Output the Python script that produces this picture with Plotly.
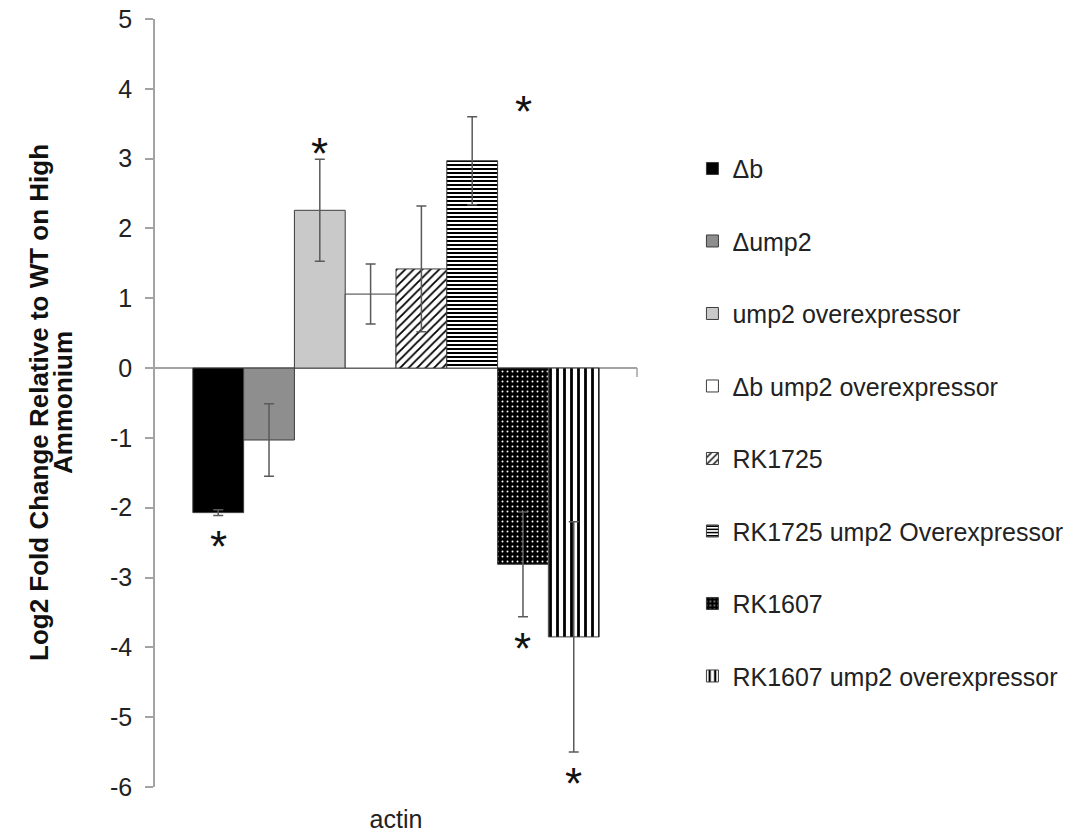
import plotly.graph_objects as go

# ---- data ----
genes = ["actin"]
strains = [
    "Δb",
    "Δump2",
    "ump2 overexpressor",
    "Δb ump2 overexpressor",
    "RK1725",
    "RK1725 ump2 Overexpressor",
    "RK1607",
    "RK1607 ump2 overexpressor",
]
log2_fc = [-2.07, -1.03, 2.26, 1.06, 1.42, 2.97, -2.81, -3.85]
fc_err = [0.04, 0.52, 0.73, 0.43, 0.90, 0.63, 0.75, 1.65]
significant = [True, False, True, False, False, True, True, True]
y_tick_vals = [5, 4, 3, 2, 1, 0, -1, -2, -3, -4, -5, -6]
y_tick_text = ["5", "4", "3", "2", "1", "0", "-1", "-2", "-3", "-4", "-5", "-6"]
y_title_lines = ["Log2 Fold Change Relative to WT on High", "Ammonium"]

# ---- styling ----
FONT = "Liberation Sans, Arial, sans-serif"
AXIS_GREY = "#a3a3a3"
OUTLINE = "#3c3c3c"
BARGAP = 0.157

bar_styles = [
    dict(color="#000000", pattern=dict(shape="")),
    dict(color="#8e8e8e", pattern=dict(shape="")),
    dict(color="#c9c9c9", pattern=dict(shape="")),
    dict(color="#ffffff", pattern=dict(shape="")),
    dict(color="#ffffff", pattern=dict(shape="/", fgcolor="#000000", bgcolor="#ffffff",
                                       size=6, solidity=0.3, fillmode="replace")),
    dict(color="#ffffff", pattern=dict(shape="-", fgcolor="#000000", bgcolor="#ffffff",
                                       size=4, solidity=0.5, fillmode="replace")),
    dict(color="#000000", pattern=dict(shape=".", fgcolor="#ffffff", bgcolor="#000000",
                                       size=5, solidity=0.12, fillmode="replace")),
    dict(color="#ffffff", pattern=dict(shape="|", fgcolor="#000000", bgcolor="#ffffff",
                                       size=7, solidity=0.4, fillmode="replace")),
]

fig = go.Figure()
for i, name in enumerate(strains):
    st = bar_styles[i]
    fig.add_trace(go.Bar(
        x=genes,
        y=[log2_fc[i]],
        name=name,
        legendgroup=name,
        marker=dict(color=st["color"], pattern=st["pattern"],
                    line=dict(color=OUTLINE, width=1)),
        error_y=dict(type="data", array=[fc_err[i]], visible=True,
                     color="#5a5a5a", thickness=1.5, width=5),
    ))

# significance stars beyond the error bar ends
n = len(strains)
bar_w = (1 - BARGAP) / n
for i in range(n):
    if not significant[i]:
        continue
    xc = -0.5 + BARGAP / 2 + (i + 0.5) * bar_w
    v, e = log2_fc[i], fc_err[i]
    if v >= 0:
        y, anchor, shift = v + e, "bottom", -21
    else:
        y, anchor, shift = v - e, "top", -5
    xshift = 51 if strains[i] == "RK1725 ump2 Overexpressor" else 0
    fig.add_annotation(x=xc, y=y, xref="x", yref="y", text="*", showarrow=False,
                       yanchor=anchor, yshift=shift, xshift=xshift,
                       font=dict(family=FONT, size=44, color="#111111"))

# y axis title, one annotation per line
for line, xs in zip(y_title_lines, [-116, -92]):
    fig.add_annotation(
        text=f"<b>{line}</b>",
        xref="paper", yref="paper", x=0, y=0.5, xshift=xs,
        xanchor="center", yanchor="middle", textangle=-90, showarrow=False,
        font=dict(family=FONT, size=26, color="#111111"),
    )

# small tick at the right end of the category axis
fig.add_shape(type="line", xref="paper", yref="y", x0=1, x1=1,
              ysizemode="pixel", yanchor=0, y0=0, y1=-9,
              line=dict(color=AXIS_GREY, width=1.5))

fig.update_layout(
    template="none",
    width=1084, height=835,
    margin=dict(l=155, r=447, t=19, b=48, autoexpand=False),
    paper_bgcolor="white", plot_bgcolor="white",
    barmode="group", bargap=BARGAP, bargroupgap=0,
    font=dict(family=FONT, size=25, color="#222222"),
    showlegend=True,
    legend=dict(x=1.115, xanchor="left", y=0.835, yanchor="top",
                font=dict(family=FONT, size=25, color="#222222"),
                tracegroupgap=37, itemwidth=30, traceorder="grouped",
                bgcolor="rgba(0,0,0,0)", borderwidth=0),
    xaxis=dict(range=[-0.5, 0.5], showline=False, showgrid=False, zeroline=False,
               automargin=False,
               ticks="outside", ticklen=10, tickcolor="rgba(0,0,0,0)",
               tickfont=dict(family=FONT, size=25, color="#222222")),
    yaxis=dict(range=[-6, 5], tickvals=y_tick_vals, ticktext=y_tick_text,
               automargin=False,
               showline=True, linecolor=AXIS_GREY, linewidth=1.5,
               ticks="outside", ticklen=8, tickcolor=AXIS_GREY, tickwidth=1.5,
               showgrid=False, zeroline=True, zerolinecolor=AXIS_GREY, zerolinewidth=1.5,
               ticklabelstandoff=8,
               tickfont=dict(family=FONT, size=25, color="#222222")),
)

fig.write_html("out.html")
